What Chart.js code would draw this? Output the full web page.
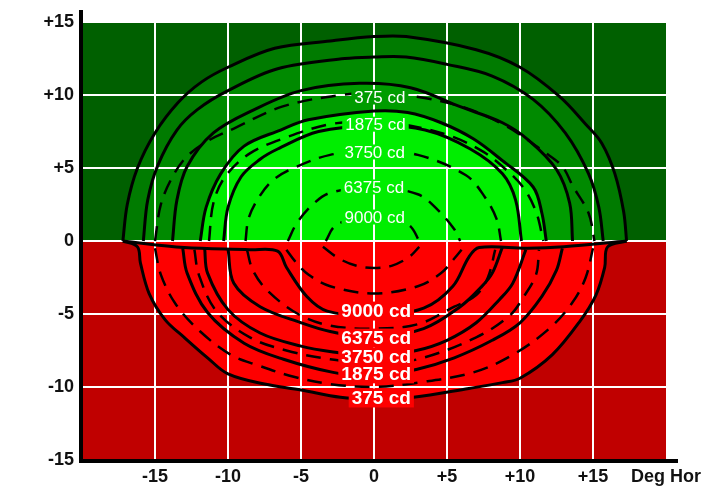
<!DOCTYPE html>
<html>
<head>
<meta charset="utf-8">
<script src="https://cdn.jsdelivr.net/npm/chart.js@4.4.1/dist/chart.umd.min.js"></script>
<style>
  html, body { margin: 0; padding: 0; background: #fff; }
  #wrap { width: 725px; height: 487px; }
</style>
</head>
<body>
<div id="wrap"><canvas id="isoChart"></canvas></div>
<script>
// axis ticks
const xTicks = [-20, -15, -10, -5, 0, 5, 10, 15, 20];
const xTickLabels = ['', '-15', '-10', '-5', '0', '+5', '+10', '+15', 'Deg Hor'];
const yTicks = [-15, -10, -5, 0, 5, 10, 15];
const yTickLabels = ['-15', '-10', '-5', '0', '+5', '+10', '+15'];

// upper half outlines (solid, filled bands), outer to inner
const upperEdgeA = [[-17.2,0],[-16.9,2.5],[-16.2,5.0],[-15.0,7.4],[-13.4,9.5],[-11.8,10.9],[-10,11.9],[-6.8,13.2],[-3,13.7],[0,14.0],[2.2,14.0],[7,13.1],[10,11.9],[12.7,9.9],[14.5,8.0],[15.6,6.7],[16.5,4.6],[17.1,2.0],[17.3,0]];
const upperEdgeB = [[-15.8,0],[-15.5,2.8],[-14.8,5.2],[-13.5,7.6],[-12.1,9.0],[-10,10.3],[-6.6,11.8],[-2,12.5],[0,12.6],[2.2,12.6],[5,12.1],[8.1,11.3],[10.9,9.7],[13.1,7.4],[14.7,4.6],[15.4,2.3],[15.7,0]];
const upperEdgeC = [[-13.8,0],[-13.5,2.8],[-12.8,5.1],[-11,7.4],[-8.2,9.0],[-5,10.3],[-1,10.8],[2.5,10.5],[5.9,9.2],[8.8,8.1],[10.6,6.9],[12.5,4.9],[13.4,2.6],[13.6,0]];
const upperEdgeD = [[-11.9,0],[-11.5,2.3],[-10.5,4.6],[-8.9,6.5],[-6.4,7.6],[-4.5,8.3],[0,8.9],[2.3,8.8],[4.6,8.1],[6.8,7.0],[8.8,5.5],[10.9,3.7],[11.5,1.9],[11.8,0]];
const upperEdgeE = [[-10.3,0],[-10,2.3],[-9.1,4.4],[-7.8,5.6],[-6.6,6.3],[-3.8,7.5],[0,7.9],[3.5,7.6],[6.6,6.3],[8.8,4.6],[9.7,2.8],[10.1,0]];

// upper half isocandela lines (dashed)
const upperDash375 = [[-15,0],[-14.6,2.5],[-13.8,4.4],[-12.8,5.8],[-11.3,6.9],[-9.6,7.7],[-6.3,9.2],[-2.3,10],[0,10.1],[2.8,9.9],[6,9.2],[9,7.9],[11.8,6],[12.9,5.1],[13.6,3.8],[14.7,1.9],[15.1,0]];
const upperDash1875 = [[-11.3,0],[-11,2.6],[-10.2,4.4],[-8.5,6.0],[-6,7.1],[-3,8.0],[0,8.2],[3,7.8],[5.5,7.1],[7.5,6.1],[8.8,5.1],[10.2,3.7],[11.1,2.0],[11.6,0]];
const upperDash3750 = [[-8.8,0],[-8.6,1.5],[-8.0,2.8],[-7.0,4.1],[-5.5,5.0],[-3,5.9],[0,6.2],[3,5.9],[6.3,4.5],[7.6,3.0],[8.4,1.5],[8.7,0]];
const upperDash6375 = [[-5.9,0],[-5.3,1.2],[-4.2,2.5],[-3,3.3],[0,3.7],[3,3.2],[4.4,2.1],[5.5,0.8],[5.9,0]];
const upperDash9000 = [[-3.3,0],[-2.7,1.0],[-1.5,1.5],[0,1.6],[1.5,1.5],[2.5,1.0],[3.1,0]];

// lower half isocandela lines (solid)
const lowerEdge375 = [[-17.2,0],[-16.2,-0.4],[-16.0,-1.5],[-15.4,-3.6],[-14.3,-5.4],[-13.0,-6.6],[-11.4,-8.0],[-10,-9.1],[-7.5,-9.8],[-5,-10.2],[-2.3,-10.7],[0,-10.8],[2.7,-10.7],[6.5,-10.1],[8.8,-9.7],[10,-9.4],[12.2,-7.8],[14.1,-5.5],[15.2,-3.7],[15.8,-1.8],[16.0,-0.4],[17.3,0]];
const lowerEdge1875 = [[-13.1,-0.5],[-12.8,-2.2],[-11.4,-4.9],[-8.9,-7.0],[-6.2,-8.1],[-2.8,-9.0],[0,-9.3],[2.9,-8.8],[5.5,-8.0],[8.1,-6.8],[10.0,-5.6],[11.5,-3.8],[12.5,-2.0],[12.9,-0.5]];
const lowerEdge3750 = [[-11.6,-0.5],[-11.4,-2.2],[-10,-4.7],[-7.8,-6.3],[-5,-7.2],[-2.8,-7.6],[0,-7.9],[2.9,-7.5],[5,-6.8],[7.0,-5.6],[8.6,-4.0],[9.5,-2.9],[10.4,-0.6]];
const lowerEdge6375 = [[-10,-0.55],[-9.6,-2.9],[-7.8,-4.5],[-5,-5.6],[-3,-6.2],[0,-6.6],[3.4,-6.0],[5.9,-4.5],[7.3,-3.2],[8.1,-2.2],[8.8,-0.4]];
const lowerEdge9000 = [[-17.2,0],[-13,-0.45],[-8.5,-0.6],[-6.6,-0.7],[-6.0,-1.8],[-4.6,-3.8],[-3.2,-4.8],[0,-5.1],[3.4,-4.6],[5.4,-3.1],[6.5,-1.1],[7.2,-0.45],[10.5,-0.5],[13,-0.4],[17.3,0]];

// lower half dashed lines
const lowerDash1 = [[-15,-0.5],[-14.6,-2.3],[-13.6,-4.3],[-11.9,-6.2],[-9.8,-7.8],[-8,-8.5],[-5.5,-9.3],[-3,-9.8],[0,-10.0],[3,-9.7],[6.8,-9.0],[9.5,-7.8],[12,-6.0],[13.6,-4.2],[14.5,-2.5],[15,-0.5]];
const lowerDash2 = [[-12.3,-0.6],[-12.0,-2.3],[-10.8,-4.8],[-8.5,-6.6],[-6,-7.5],[-3,-8.1],[0,-8.4],[3,-8.1],[7,-6.6],[9.3,-5.1],[10.2,-3.9],[11.1,-2.3],[11.3,-0.6]];
const lowerDash3 = [[-8.7,-0.6],[-8.3,-2.0],[-7.3,-3.4],[-5.2,-5.0],[-3,-5.8],[0,-6.0],[3,-5.7],[5.5,-4.5],[7.0,-3.7],[7.8,-2.5],[8.3,-0.6]];
const lowerDash4 = [[-6.0,-0.6],[-5.4,-1.4],[-4.5,-2.3],[-3,-3.1],[0,-3.6],[3,-3.1],[4.6,-2.2],[5.5,-1.2],[6.0,-0.6]];
const lowerDash5 = [[-3.5,-0.4],[-2.4,-1.2],[-1.2,-1.7],[0,-1.85],[1.2,-1.7],[2.4,-1.1],[3.1,-0.4]];

// contour labels
const upperLabels = ['375 cd', '1875 cd', '3750 cd', '6375 cd', '9000 cd'];
const upperLabelX = [0.4, 0.1, 0.05, 0, 0.05];
const upperLabelY = [9.86, 8.0, 6.1, 3.7, 1.64];
const lowerLabels = ['9000 cd', '6375 cd', '3750 cd', '1875 cd', '375 cd'];
const lowerLabelX = [0.15, 0.15, 0.15, 0.15, 0.5];
const lowerLabelY = [-4.8, -6.65, -7.95, -9.1, -10.75];

const FONT = '"Liberation Sans", Arial, Helvetica, sans-serif';
const colors = {
  topBg: '#006000', bottomBg: '#c00000',
  bandA: '#007b00', bandB: '#008a00', bandC: '#009c00', bandD: '#00ee00',
  lowerFill: '#fe0000'
};

const pts = arr => arr.map(([x, y]) => ({x, y}));

function solid(data, fillColor, order) {
  return {
    data: pts(data), showLine: true, pointRadius: 0, borderColor: '#000', borderWidth: 3,
    tension: 0.35, fill: fillColor ? 'shape' : false, backgroundColor: fillColor || 'transparent', order
  };
}
function dashed(data) {
  return {
    data: pts(data), showLine: true, pointRadius: 0, borderColor: '#000', borderWidth: 2.5,
    borderDash: [15, 9], tension: 0.35, fill: false, order: 0
  };
}

// background halves, white grid over the fills, labels and the axis lines
const decor = {
  id: 'decor',
  beforeDraw(chart) {
    const {ctx, chartArea: a, scales: {y}} = chart;
    const y0 = y.getPixelForValue(0);
    ctx.save();
    ctx.fillStyle = colors.topBg;
    ctx.fillRect(a.left, a.top, a.width, y0 - a.top);
    ctx.fillStyle = colors.bottomBg;
    ctx.fillRect(a.left, y0, a.width, a.bottom - y0);
    ctx.restore();
  },
  beforeDatasetsDraw(chart) {
    const {ctx, chartArea: a, scales: {x, y}} = chart;
    ctx.save();
    ctx.strokeStyle = '#fff';
    ctx.lineWidth = 2;
    ctx.beginPath();
    xTicks.filter(v => v > -20 && v < 20).forEach(v => {
      const px = Math.round(x.getPixelForValue(v));
      ctx.moveTo(px, a.top); ctx.lineTo(px, a.bottom);
    });
    yTicks.filter(v => v > -15).forEach(v => {
      const py = Math.round(y.getPixelForValue(v));
      ctx.moveTo(a.left, py); ctx.lineTo(a.right, py);
    });
    ctx.stroke();
    ctx.restore();
  },
  afterDatasetsDraw(chart) {
    const {ctx, scales: {x, y}} = chart;
    const drawLabel = (text, vx, vy, font, size, bg) => {
      ctx.font = font;
      const w = ctx.measureText(text).width;
      const px = x.getPixelForValue(vx), py = y.getPixelForValue(vy);
      ctx.fillStyle = bg;
      ctx.fillRect(px - w / 2 - 3, py - size * 0.5, w + 6, size);
      ctx.fillStyle = '#fff';
      ctx.fillText(text, px, py + 1);
    };
    ctx.save();
    ctx.textAlign = 'center';
    ctx.textBaseline = 'middle';
    upperLabels.forEach((t, i) => drawLabel(t, upperLabelX[i], upperLabelY[i], '17px ' + FONT, 15,
      i === 0 ? colors.bandC : colors.bandD));
    lowerLabels.forEach((t, i) => drawLabel(t, lowerLabelX[i], lowerLabelY[i], 'bold 19px ' + FONT, 19,
      colors.lowerFill));
    ctx.restore();
  },
  afterDraw(chart) {
    const {ctx, chartArea: a} = chart;
    ctx.save();
    ctx.strokeStyle = '#000';
    ctx.lineWidth = 4;
    ctx.beginPath();
    ctx.moveTo(a.left - 1, a.top - 12); ctx.lineTo(a.left - 1, a.bottom + 3);
    ctx.moveTo(a.left - 3, a.bottom + 1); ctx.lineTo(a.right + 12, a.bottom + 1);
    ctx.stroke();
    ctx.restore();
  }
};

new Chart(document.getElementById('isoChart'), {
  type: 'scatter',
  data: {
    datasets: [
      solid(upperEdgeA, colors.bandA, 10),
      solid(upperEdgeB, colors.bandB, 9),
      solid(upperEdgeC, colors.bandC, 8),
      solid(upperEdgeD, colors.bandD, 7),
      solid(upperEdgeE, null, 6),
      solid(lowerEdge375, colors.lowerFill, 10),
      solid(lowerEdge1875, null, 5),
      solid(lowerEdge3750, null, 5),
      solid(lowerEdge6375, null, 5),
      solid(lowerEdge9000, null, 5),
      dashed(upperDash375), dashed(upperDash1875), dashed(upperDash3750),
      dashed(upperDash6375), dashed(upperDash9000),
      dashed(lowerDash1), dashed(lowerDash2), dashed(lowerDash3),
      dashed(lowerDash4), dashed(lowerDash5)
    ]
  },
  options: {
    responsive: true,
    maintainAspectRatio: false,
    animation: false,
    layout: { padding: { top: 22, right: 59, left: 0, bottom: 0 } },
    plugins: {
      legend: { display: false },
      tooltip: { enabled: false },
      filler: { drawTime: 'beforeDatasetsDraw' }
    },
    scales: {
      x: {
        type: 'linear', min: -20, max: 20,
        grid: { display: false, drawTicks: false },
        border: { display: false },
        afterFit: s => { s.height = 27; },
        ticks: {
          stepSize: 5, padding: 6, maxRotation: 0, autoSkip: false,
          color: '#111', font: { family: FONT, size: 18, weight: 'bold' },
          callback: v => xTickLabels[xTicks.indexOf(v)] ?? ''
        }
      },
      y: {
        type: 'linear', min: -15, max: 15,
        grid: { display: false, drawTicks: false },
        border: { display: false },
        afterFit: s => { s.width = 82; },
        ticks: {
          stepSize: 5, padding: 8, autoSkip: false,
          color: '#111', font: { family: FONT, size: 18, weight: 'bold' },
          callback: v => yTickLabels[yTicks.indexOf(v)] ?? ''
        }
      }
    }
  },
  plugins: [decor]
});
</script>
</body>
</html>
